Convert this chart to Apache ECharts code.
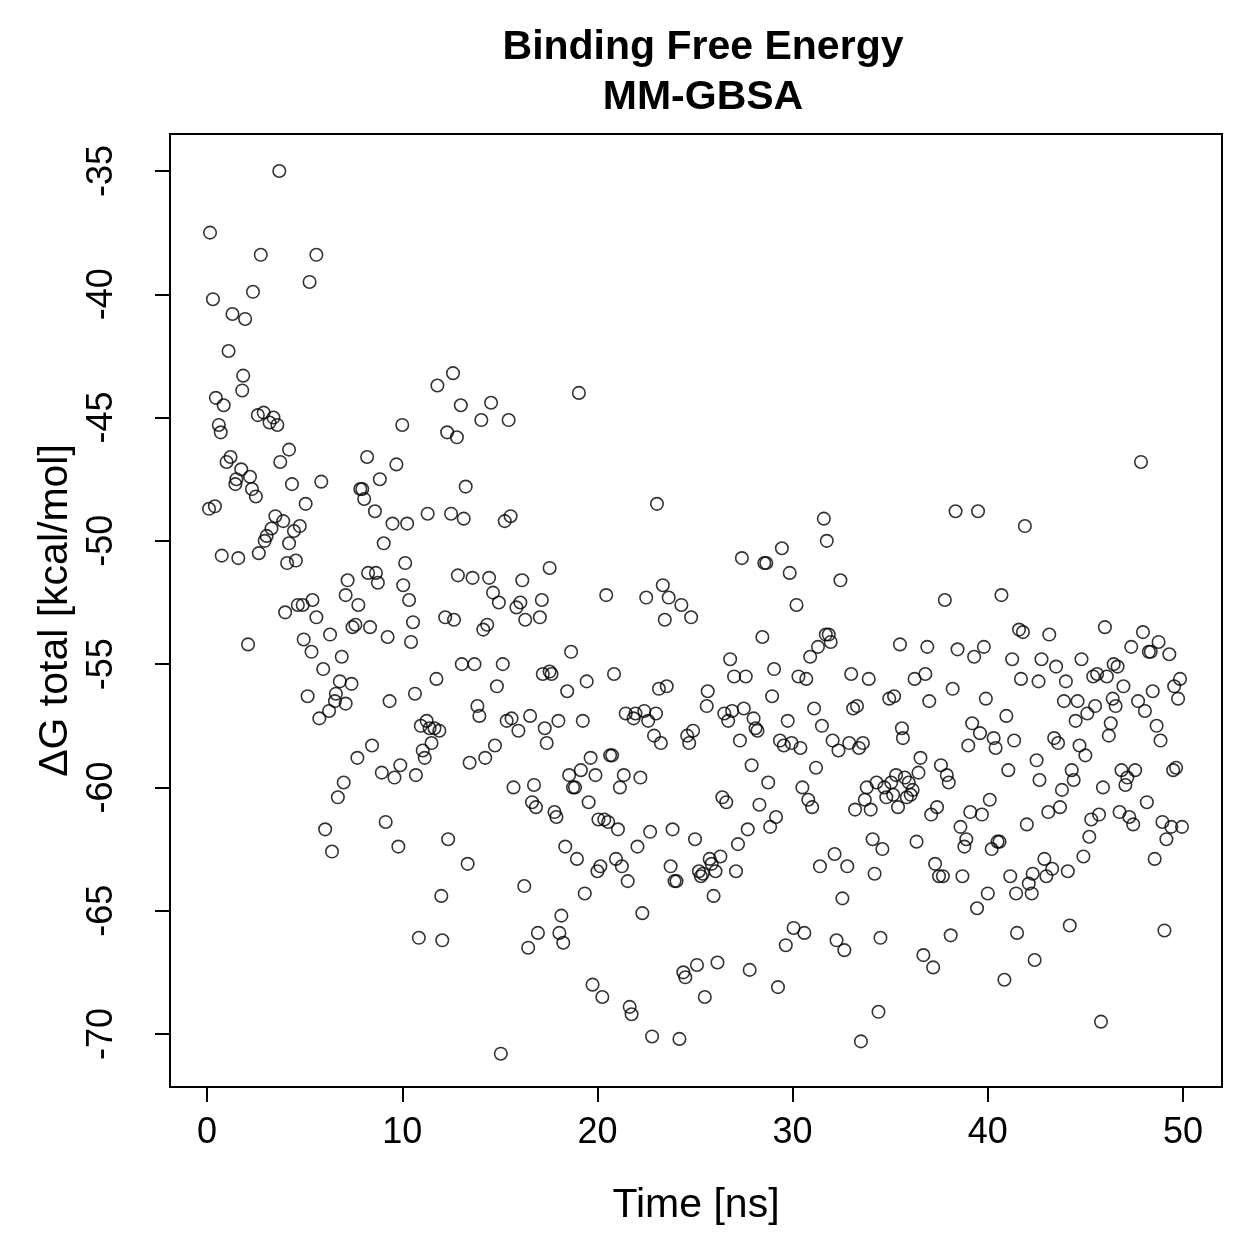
<!DOCTYPE html>
<html>
<head>
<meta charset="utf-8">
<script src="https://cdn.jsdelivr.net/npm/echarts@6/dist/echarts.min.js"></script>
<style>
  html, body { margin: 0; padding: 0; background: #fff; }
  #chart { width: 1259px; height: 1259px; }
</style>
</head>
<body>
<div id="chart"></div>
<script>
// time [ns] and ΔG total [kcal/mol]
var timeNs = [
  0.15,0.1,0.4,0.3,0.45,0.6,0.7,0.85,0.75,1.1,1.0,1.2,1.3,1.45,1.5,1.6,1.75,1.8,1.85,1.95,
  2.1,2.2,2.35,2.3,2.5,2.6,2.65,2.75,2.9,2.95,3.05,3.2,3.3,3.4,3.5,3.6,3.7,3.75,3.9,4.0,
  4.1,4.2,4.2,4.35,4.45,4.55,4.65,4.75,4.9,4.95,5.05,5.15,5.25,5.35,5.4,5.6,5.6,5.75,5.85,5.95,
  6.05,6.25,6.3,6.4,6.55,6.6,6.7,6.8,6.9,7.0,7.1,7.1,7.2,7.4,7.45,7.6,7.7,7.75,7.85,7.95,
  8.05,8.2,8.25,8.35,8.45,8.6,8.65,8.75,8.85,8.95,9.05,9.15,9.25,9.35,9.5,9.6,9.7,9.8,9.9,10.0,
  10.05,10.15,10.25,10.35,10.45,10.55,10.65,10.7,10.85,10.95,11.05,11.15,11.25,11.3,11.4,11.5,11.65,11.75,11.8,11.9,
  12.0,12.05,12.2,12.3,12.35,12.5,12.6,12.65,12.8,12.85,13.0,13.05,13.15,13.25,13.35,13.45,13.6,13.7,13.85,13.95,
  14.05,14.15,14.25,14.35,14.45,14.55,14.65,14.75,14.85,14.95,15.05,15.15,15.25,15.35,15.45,15.55,15.6,15.7,15.85,15.95,
  16.05,16.15,16.25,16.3,16.45,16.55,16.65,16.75,16.85,16.95,17.05,17.15,17.2,17.3,17.4,17.55,17.55,17.65,17.8,17.9,
  18.0,18.05,18.15,18.25,18.35,18.45,18.55,18.65,18.75,18.85,18.95,19.05,19.15,19.25,19.35,19.45,19.55,19.65,19.75,19.9,
  20.0,20.05,20.15,20.25,20.35,20.45,20.55,20.65,20.75,20.85,20.95,21.05,21.15,21.25,21.35,21.45,21.55,21.65,21.75,21.85,
  21.95,22.05,22.2,22.3,22.4,22.5,22.6,22.7,22.8,22.9,23.0,23.05,23.15,23.25,23.35,23.45,23.55,23.65,23.75,23.85,
  23.95,24.05,24.2,24.3,24.4,24.5,24.6,24.7,24.8,24.9,25.0,25.1,25.2,25.3,25.4,25.5,25.6,25.65,25.75,25.85,
  25.95,26.05,26.15,26.3,26.4,26.5,26.6,26.7,26.8,26.9,27.0,27.1,27.2,27.3,27.4,27.5,27.6,27.7,27.8,27.9,
  28.0,28.1,28.2,28.3,28.45,28.55,28.65,28.75,28.85,28.95,29.05,29.15,29.25,29.35,29.45,29.55,29.65,29.75,29.85,29.95,
  30.05,30.2,30.3,30.4,30.5,30.6,30.7,30.8,30.9,31.0,31.1,31.2,31.3,31.4,31.5,31.6,31.7,31.75,31.85,31.95,
  32.05,32.15,32.25,32.35,32.45,32.55,32.65,32.8,32.9,33.0,33.1,33.2,33.3,33.4,33.5,33.6,33.7,33.8,33.9,34.0,
  34.1,34.2,34.3,34.4,34.5,34.6,34.7,34.8,34.95,35.05,35.15,35.2,35.3,35.4,35.5,35.6,35.65,35.75,35.85,35.95,
  36.05,36.15,36.25,36.35,36.45,36.55,36.7,36.8,36.9,37.0,37.1,37.2,37.3,37.4,37.5,37.6,37.7,37.8,37.9,38.0,
  38.1,38.2,38.35,38.45,38.6,38.7,38.8,38.9,39.0,39.1,39.2,39.3,39.45,39.5,39.6,39.7,39.8,39.9,40.0,40.1,
  40.2,40.3,40.4,40.5,40.6,40.7,40.85,40.95,41.05,41.15,41.25,41.35,41.45,41.5,41.6,41.7,41.8,41.9,42.0,42.1,
  42.25,42.3,42.4,42.5,42.6,42.65,42.75,42.9,43.0,43.1,43.15,43.3,43.4,43.5,43.6,43.7,43.8,43.9,44.0,44.1,
  44.2,44.3,44.4,44.5,44.6,44.7,44.8,44.9,45.0,45.1,45.2,45.3,45.4,45.5,45.6,45.7,45.8,45.9,46.0,46.1,
  46.2,46.3,46.4,46.45,46.55,46.65,46.75,46.85,46.95,47.05,47.15,47.25,47.35,47.45,47.55,47.7,47.85,47.95,48.05,48.15,
  48.25,48.35,48.45,48.55,48.65,48.75,48.85,48.95,49.05,49.15,49.3,49.4,49.5,49.55,49.65,49.75,49.85,49.95
];
var dgTotal = [
  -37.5,-48.7,-48.6,-40.2,-44.2,-45.3,-45.6,-44.5,-50.6,-42.3,-46.8,-46.6,-40.8,-47.7,-47.5,-50.7,-47.1,-43.9,-43.3,-41.0,
  -54.2,-47.4,-39.9,-47.9,-48.2,-44.9,-50.5,-38.4,-44.8,-50.0,-49.8,-45.2,-49.5,-45.0,-49.0,-45.3,-35.0,-46.8,-49.2,-52.9,
  -50.9,-46.3,-50.1,-47.7,-49.6,-50.8,-52.6,-49.4,-52.6,-54.0,-48.5,-56.3,-39.5,-54.5,-52.4,-38.4,-53.1,-57.2,-47.6,-55.2,
  -61.7,-56.9,-53.8,-62.6,-56.5,-56.2,-60.4,-55.7,-54.7,-59.8,-52.2,-56.6,-51.6,-55.8,-53.5,-53.4,-58.8,-52.6,-47.9,-47.9,
  -48.3,-46.6,-51.3,-53.5,-58.3,-48.8,-51.3,-51.7,-47.5,-59.4,-50.1,-61.4,-53.9,-56.5,-49.3,-59.6,-46.9,-62.4,-59.1,-45.3,
  -51.8,-50.9,-49.3,-52.4,-54.1,-53.3,-56.2,-59.5,-66.1,-57.5,-58.5,-58.8,-57.3,-48.9,-57.6,-58.2,-57.6,-55.6,-43.7,-57.7,
  -64.4,-66.2,-53.1,-45.6,-62.1,-48.9,-43.2,-53.2,-45.8,-51.4,-44.5,-55.0,-49.1,-47.8,-63.1,-59.0,-51.5,-55.0,-56.7,-57.1,
  -45.1,-53.6,-58.8,-53.4,-51.5,-44.4,-52.1,-58.3,-55.9,-52.5,-70.8,-55.0,-49.2,-57.3,-45.1,-49.0,-57.2,-60.0,-52.7,-57.7,
  -52.5,-51.6,-64.0,-53.2,-66.5,-57.1,-60.6,-59.9,-60.8,-65.9,-53.1,-52.4,-55.4,-57.6,-58.2,-55.3,-51.1,-55.4,-61.0,-61.2,
  -57.3,-65.9,-65.2,-66.3,-62.4,-56.1,-59.5,-54.5,-60.0,-60.0,-62.9,-44.0,-59.3,-57.3,-64.3,-55.7,-60.6,-58.8,-68.0,-59.5,
  -63.4,-61.3,-63.2,-68.5,-61.3,-52.2,-61.4,-58.7,-58.7,-55.4,-62.9,-61.7,-60.0,-63.2,-59.5,-57.0,-63.8,-68.9,-69.2,-57.2,
  -57.0,-62.4,-59.6,-65.1,-56.9,-52.3,-57.3,-61.8,-70.1,-57.9,-57.0,-48.5,-56.0,-58.2,-51.8,-53.2,-55.9,-52.3,-63.2,-61.7,
  -63.8,-63.8,-70.2,-52.6,-67.5,-67.7,-57.9,-58.2,-53.1,-57.7,-62.1,-67.2,-63.4,-63.6,-63.5,-68.5,-56.7,-56.1,-62.9,-63.1,
  -64.4,-63.4,-67.1,-62.8,-60.4,-57.0,-60.6,-57.3,-54.8,-56.9,-55.5,-63.4,-62.3,-58.1,-50.7,-56.8,-55.5,-61.7,-67.4,-59.1,
  -57.2,-57.6,-57.7,-60.7,-53.9,-50.9,-50.9,-59.8,-61.6,-56.3,-55.2,-61.2,-68.1,-58.1,-50.3,-58.3,-66.4,-57.3,-51.3,-58.2,
  -65.7,-52.6,-55.5,-58.4,-60.0,-65.9,-55.6,-60.5,-54.7,-60.8,-56.8,-59.2,-54.3,-63.2,-57.5,-49.1,-53.8,-50.0,-53.8,-54.1,
  -58.1,-62.7,-66.2,-58.5,-51.6,-64.5,-66.6,-63.2,-58.2,-55.4,-56.8,-60.9,-56.7,-58.4,-70.3,-58.2,-60.5,-60.0,-55.6,-60.9,
  -62.1,-63.5,-59.8,-69.1,-66.1,-62.5,-60.0,-60.4,-56.4,-59.8,-60.3,-56.3,-59.5,-60.8,-54.2,-57.6,-58.0,-59.6,-60.4,-59.8,
  -60.3,-60.1,-55.6,-62.2,-59.4,-58.8,-66.8,-55.4,-54.3,-56.5,-61.1,-67.3,-63.1,-60.8,-63.6,-59.1,-63.6,-52.4,-59.5,-59.8,
  -66.0,-56.0,-48.8,-54.4,-61.6,-63.6,-62.4,-62.1,-58.3,-61.0,-57.4,-54.7,-64.9,-48.8,-57.8,-61.1,-54.3,-56.4,-64.3,-60.5,
  -62.5,-58.0,-58.4,-62.2,-62.2,-52.2,-67.8,-57.1,-59.3,-63.6,-54.8,-58.1,-64.3,-65.9,-53.6,-55.6,-53.7,-49.4,-61.5,-63.9,
  -64.3,-63.5,-67.0,-58.9,-55.7,-59.7,-54.8,-62.9,-63.6,-61.0,-53.8,-63.3,-58.0,-55.1,-58.2,-60.8,-60.1,-56.5,-55.7,-63.4,
  -65.6,-59.3,-59.7,-57.3,-56.5,-58.3,-54.8,-62.8,-58.7,-57.0,-62.0,-61.3,-55.5,-56.7,-55.4,-61.1,-69.5,-60.0,-53.5,-55.5,
  -57.9,-57.4,-56.4,-55.0,-56.7,-55.1,-61.0,-59.3,-55.9,-59.9,-59.6,-61.2,-54.3,-61.5,-59.3,-56.5,-46.8,-53.7,-56.9,-60.6,
  -54.5,-54.5,-56.1,-62.9,-57.5,-54.1,-58.1,-61.4,-65.8,-62.1,-54.6,-61.6,-59.3,-55.9,-59.2,-56.4,-55.6,-61.6
];
var xTicks = [0, 10, 20, 30, 40, 50];
var yTicks = [-70, -65, -60, -55, -50, -45, -40, -35];

var points = [];
for (var i = 0; i < timeNs.length; i++) {
  points.push([timeNs[i], dgTotal[i]]);
}

var font = "Liberation Sans, Arial, Helvetica, sans-serif";
var chart = echarts.init(document.getElementById("chart"));
chart.setOption({
  animation: false,
  backgroundColor: "#fff",
  title: {
    text: "Binding Free Energy\nMM-GBSA",
    left: 698,
    top: 18,
    textAlign: "center",
    textStyle: {
      fontFamily: font,
      fontSize: 41,
      fontWeight: "bold",
      color: "#000",
      lineHeight: 50,
    },
  },
  grid: {
    left: 170,
    top: 134,
    width: 1052,
    height: 953,
    show: true,
    borderColor: "#000",
    borderWidth: 2,
    backgroundColor: "transparent",
  },
  xAxis: {
    type: "value",
    min: -1.9,
    max: 52,
    name: "Time [ns]",
    nameLocation: "middle",
    nameGap: 98,
    nameTextStyle: { fontFamily: font, fontSize: 41, color: "#000" },
    axisLine: { show: false, onZero: false },
    splitLine: { show: false },
    axisTick: {
      show: true,
      length: 15,
      customValues: xTicks,
      lineStyle: { color: "#000", width: 2 },
    },
    axisLabel: {
      customValues: xTicks,
      margin: 28,
      fontFamily: font,
      fontSize: 36,
      color: "#000",
    },
  },
  yAxis: {
    type: "value",
    min: -72.15,
    max: -33.5,
    name: "ΔG total [kcal/mol]",
    nameLocation: "middle",
    nameRotate: 90,
    nameGap: 70,
    nameTextStyle: { fontFamily: font, fontSize: 41, color: "#000" },
    axisLine: { show: false, onZero: false },
    splitLine: { show: false },
    axisTick: {
      show: true,
      length: 15,
      customValues: yTicks,
      lineStyle: { color: "#000", width: 2 },
    },
    axisLabel: {
      customValues: yTicks,
      rotate: 90,
      margin: 50,
      fontFamily: font,
      fontSize: 36,
      color: "#000",
    },
  },
  series: [
    {
      type: "scatter",
      data: points,
      symbol: "circle",
      symbolSize: 12.5,
      itemStyle: {
        color: "rgba(0,0,0,0)",
        borderColor: "#000",
        borderWidth: 1.6,
      },
    },
  ],
});
</script>
</body>
</html>
